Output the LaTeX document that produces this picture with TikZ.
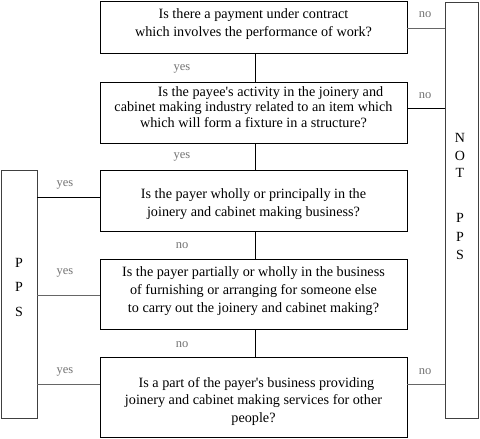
\documentclass[tikz,border=0pt]{standalone}
\usepackage{fontspec}
\setmainfont{Liberation Serif}
\newcommand{\apos}{\textquotesingle}
\begin{document}
\begin{tikzpicture}[x=1pt,y=-1pt,
  qbox/.style={draw=black,line width=0.9pt,fill=white},
  lbl/.style={text=black!55,font=\fontsize{12.5}{14}\selectfont,inner sep=0pt},
  conn/.style={draw=black,line width=0.9pt},
  gconn/.style={draw=black!60,line width=1pt},
  qtext/.style={align=center,font=\fontsize{14.2}{18}\selectfont,inner sep=0pt},
  vl/.style={font=\fontsize{14}{15}\selectfont,inner sep=0pt}]
\useasboundingbox (0,0) rectangle (480,439);
% boxes
\draw[qbox] (100,1) rectangle (407,53);
\node[qtext] (q1) at (253.5,24.5) {Is there a payment under contract\\which involves the performance of work?};
\draw[qbox] (100,82) rectangle (407,143);
\node[inner sep=0pt,font=\fontsize{14.2}{15.5}\selectfont] (q2) at (253.5,108.5) {\begin{tabular}{@{}c@{}}\hspace*{34pt}Is the payee\apos s activity in the joinery and\\cabinet making industry related to an item which\\which will form a fixture in a structure?\end{tabular}};
\draw[qbox] (100,170) rectangle (407,231);
\node[qtext] (q3) at (253.5,204) {Is the payer wholly or principally in the\\joinery and cabinet making business?};
\draw[qbox] (100,259) rectangle (407,329);
\node[qtext] (q4) at (253.5,291.5) {Is the payer partially or wholly in the business\\of furnishing or arranging for someone else\\to carry out the joinery and cabinet making?};
\draw[qbox] (100,357) rectangle (407,437);
\node[inner sep=0pt,font=\fontsize{14.2}{17.5}\selectfont] (q5) at (253.5,401) {\begin{tabular}{@{}c@{}}\hspace*{6pt}Is a part of the payer\apos s business providing\\joinery and cabinet making services for other\\people?\end{tabular}};
% side boxes
\draw[qbox,draw=black!75] (445,2) rectangle (478,418);
\draw[qbox,draw=black!75] (1,170) rectangle (37,418);
\node[vl] (n1) at (460,138) {N};
\node[vl] (n2) at (460,156) {O};
\node[vl] (n3) at (460,173) {T};
\node[vl] (n4) at (460,218) {P};
\node[vl] (n5) at (460,237) {P};
\node[vl] (n6) at (460,255) {S};
\node[vl] (p1) at (19,263) {P};
\node[vl] (p2) at (19,287) {P};
\node[vl] (p3) at (19,312) {S};
% coordinates
\coordinate (b1b) at (255,53);
\coordinate (b2t) at (255,82);
\coordinate (b2b) at (255,143);
\coordinate (b3t) at (255,170);
\coordinate (b3b) at (255,231);
\coordinate (b4t) at (255,259);
\coordinate (b4b) at (255,329);
\coordinate (b5t) at (255,357);
\coordinate (n1a) at (407,28);  \coordinate (n1b) at (445,28);
\coordinate (n2a) at (407,108); \coordinate (n2b) at (445,108);
\coordinate (n5a) at (407,384); \coordinate (n5b) at (445,384);
\coordinate (y3a) at (100,197); \coordinate (y3b) at (37,197);
\coordinate (y4a) at (100,295); \coordinate (y4b) at (37,295);
\coordinate (y5a) at (100,384); \coordinate (y5b) at (37,384);
% vertical connectors
\draw[conn] (b1b) -- (b2t);
\draw[conn] (b2b) -- (b3t);
\draw[conn] (b3b) -- (b4t);
\draw[conn] (b4b) -- (b5t);
% horizontal connectors
\draw[gconn] (n1a) -- (n1b);
\draw[conn] (n2a) -- (n2b);
\draw[gconn] (n5a) -- (n5b);
\draw[conn] (y3a) -- (y3b);
\draw[gconn] (y4a) -- (y4b);
\draw[gconn] (y5a) -- (y5b);
% labels
\node[lbl] (l1) at (182,69) {yes};
\node[lbl] (l2) at (182,157) {yes};
\node[lbl] (l3) at (182,246) {no};
\node[lbl] (l4) at (182,345) {no};
\node[lbl] (l5) at (425,15) {no};
\node[lbl] (l6) at (425,96) {no};
\node[lbl] (l7) at (425,372) {no};
\node[lbl] (l8) at (65,185) {yes};
\node[lbl] (l9) at (65,273) {yes};
\node[lbl] (l10) at (65,372) {yes};
\end{tikzpicture}
\end{document}
